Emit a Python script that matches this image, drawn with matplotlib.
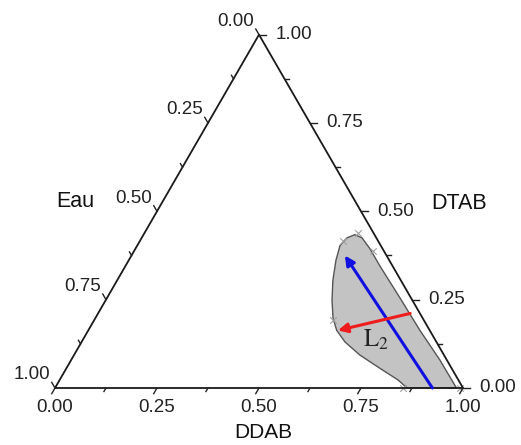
import numpy as np
import matplotlib
matplotlib.use("Agg")
import matplotlib.pyplot as plt

plt.rcParams['font.family'] = ['Liberation Sans', 'DejaVu Sans']
plt.rcParams['mathtext.fontset'] = 'stix'

# ---- data (ternary fractions: DDAB, DTAB; Eau = 1 - DDAB - DTAB) ----
ticks = [0.00, 0.25, 0.50, 0.75, 1.00]
tick_labels = ["0.00", "0.25", "0.50", "0.75", "1.00"]
minor_ticks = [0.125, 0.375, 0.625, 0.875]

region_ddab = [0.984, 0.904, 0.813, 0.719, 0.623, 0.575, 0.540, 0.518, 0.503,
               0.497, 0.508, 0.529, 0.555, 0.583, 0.609, 0.646, 0.701, 0.768,
               0.829, 0.863]
region_dtab = [0.000, 0.079, 0.163, 0.254, 0.346, 0.394, 0.425, 0.434, 0.425,
               0.403, 0.361, 0.304, 0.248, 0.197, 0.163, 0.130, 0.093, 0.056,
               0.023, 0.000]

cross_ddab = [0.497, 0.523, 0.585, 0.585, 0.853, 0.993]
cross_dtab = [0.417, 0.439, 0.389, 0.192, 0.000, 0.000]

blue_start = (0.925, 0.000)
blue_end = (0.523, 0.375)
red_start = (0.765, 0.211)
red_end = (0.612, 0.163)

S3 = np.sqrt(3) / 2


def tern(a, b):
    a = np.asarray(a, float)
    b = np.asarray(b, float)
    return a + b / 2.0, b * S3


fig = plt.figure(figsize=(5.21, 4.45), dpi=100)
ax = fig.add_axes([0, 0, 1, 1])
ax.set_xlim(-55 / 408, 466 / 408)
ax.set_ylim(-57 / 408, 388 / 408)
ax.axis('off')

# triangle frame
tx = [0, 1, 0.5, 0]
ty = [0, 0, S3, 0]
ax.plot(tx, ty, color='#1a1a1a', lw=1.3, zorder=3, solid_capstyle='round')

tc = '#222222'
fs = 13.5


def draw_ticks(vals, length):
    for t in vals:
        # bottom axis (DDAB): ticks down-left
        x0, y0 = tern(t, 0)
        ax.plot([x0, x0 - 0.5 * length], [y0, y0 - S3 * length], color=tc, lw=1.0, zorder=3)
        # right axis (DTAB): ticks to the right
        x0, y0 = tern(1 - t, t)
        ax.plot([x0, x0 + length], [y0, y0], color=tc, lw=1.0, zorder=3)
        # left axis (Eau = t): ticks up-left
        x0, y0 = tern(0, 1 - t)
        ax.plot([x0, x0 - 0.5 * length], [y0, y0 + S3 * length], color=tc, lw=1.0, zorder=3)


draw_ticks(ticks, 0.016)
draw_ticks(minor_ticks, 0.010)

for t, lab in zip(ticks, tick_labels):
    x0, y0 = tern(t, 0)
    ax.text(x0, y0 - 0.048, lab, ha='center', va='center', fontsize=fs, color=tc)
    x0, y0 = tern(1 - t, t)
    ax.text(x0 + 0.041, y0, lab, ha='left', va='center', fontsize=fs, color=tc)
    x0, y0 = tern(0, 1 - t)
    ax.text(x0 - 0.012, y0 + 0.032, lab, ha='right', va='center', fontsize=fs, color=tc)

ax.text(0.049, 0.456, "Eau", ha='center', va='center', fontsize=15.5, color='#111111')
ax.text(0.990, 0.451, "DTAB", ha='center', va='center', fontsize=15.5, color='#111111')
ax.text(0.510, -0.110, "DDAB", ha='center', va='center', fontsize=15, color='#111111')

# region
rx, ry = tern(region_ddab, region_dtab)
ax.fill(rx, ry, facecolor='#c3c3c3', edgecolor='#555555', lw=1.0, zorder=2,
        joinstyle='round')

cx, cy = tern(cross_ddab, cross_dtab)
ax.scatter(cx, cy, marker='x', s=22, color='#a0a0a0', lw=0.8, zorder=2.5)

# arrows
bsx, bsy = tern(*blue_start)
bex, bey = tern(*blue_end)
ax.annotate('', xy=(bex, bey), xytext=(bsx, bsy),
            arrowprops=dict(arrowstyle='-|>', color='#1010e0', lw=2.2,
                            mutation_scale=14, shrinkA=0, shrinkB=0), zorder=4)
rsx, rsy = tern(*red_start)
rex, rey = tern(*red_end)
ax.annotate('', xy=(rex, rey), xytext=(rsx, rsy),
            arrowprops=dict(arrowstyle='-|>', color='#ee1c1c', lw=2.2,
                            mutation_scale=14, shrinkA=0, shrinkB=0), zorder=4)

ax.text(0.786, 0.118, r'$\mathrm{L}_2$', ha='center', va='center', fontsize=18, color='#222222', zorder=5)

fig.savefig('out.png', dpi=100)
